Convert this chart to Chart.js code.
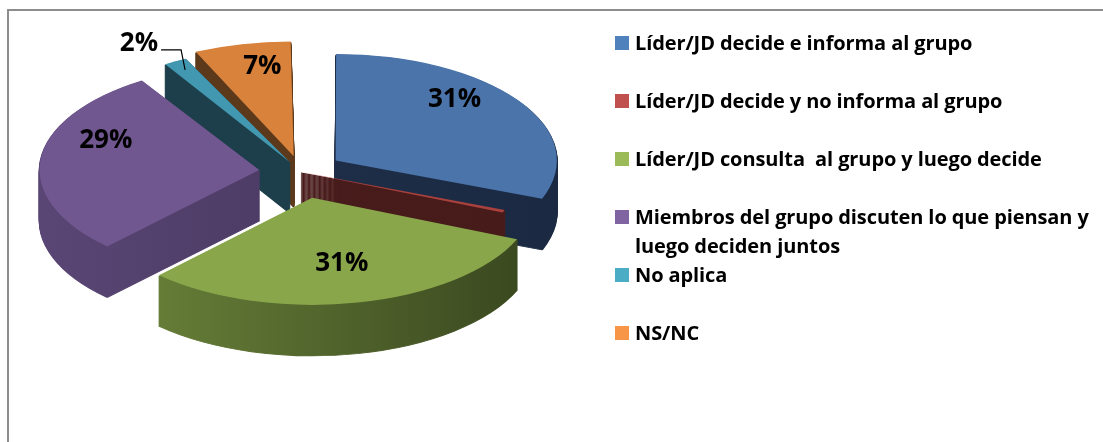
<!DOCTYPE html>
<html>
<head>
<meta charset="utf-8">
<script src="https://cdn.jsdelivr.net/npm/chart.js@4.4.1/dist/chart.umd.min.js"></script>
<style>
  html, body { margin: 0; padding: 0; background: #fff; }
  #wrap { position: relative; width: 1103px; height: 442px; overflow: hidden; }
  #frame { position: absolute; left: 7px; top: 9px; width: 1100px; height: 440px;
           border-top: 2px solid #8d8d8d; border-left: 2px solid #8d8d8d; }
  #grafico { position: absolute; left: 0; top: 0; }
  #leyenda { position: absolute; left: 615px; top: 28px; font: bold 20px "Open Sans", sans-serif; color: #000; }
  .item { position: relative; padding-left: 20px; line-height: 29px; height: 58px; white-space: pre; letter-spacing: -0.1px; }
  .item .caja { position: absolute; left: 0; top: 8px; width: 14px; height: 14px; }
</style>
</head>
<body>
<div id="wrap">
  <div id="frame"></div>
  <canvas id="grafico" width="1103" height="442"></canvas>
  <div id="leyenda"></div>
</div>
<script>
var categorias = [
  "Líder/JD decide e informa al grupo",
  "Líder/JD decide y no informa al grupo",
  "Líder/JD consulta  al grupo y luego decide",
  ["Miembros del grupo discuten lo que piensan y", "luego deciden juntos"],
  "No aplica",
  "NS/NC"
];
var valores = [31, 0.4, 31, 29, 2, 7];
var etiquetas = ["31%", "", "31%", "29%", "2%", "7%"];

var coloresCara = ["#4a74aa", "#a9413e", "#89a64b", "#71578f", "#4298b0", "#d8823c"];
// lado del pastel: claro a la izquierda, oscuro a la derecha
var ladoClaro = ["#22344f", "#4a1c1b", "#728d3e", "#5c4878", "#1d3f4b", "#5b391a"];
var ladoOscuro = ["#1a2840", "#461b1a", "#34401c", "#3f3154", "#1d3f4b", "#5b391a"];
var coloresLeyenda = ["#4f81bd", "#c0504d", "#9bbb59", "#8064a2", "#4bacc6", "#f79646"];
var separacion = [100, 0, 130, 100, 55, 80];

// perspectiva del pastel
var SX = 1.68, SY = 0.81, PROF = 51;

function centro(chart) {
  var a = chart.chartArea;
  return { x: (a.left + a.right) / 2, y: (a.top + a.bottom) / 2 };
}

function escalar(ctx, chart, dy) {
  var c = centro(chart);
  ctx.translate(c.x, c.y + dy);
  ctx.scale(SX, SY);
  ctx.translate(-c.x, -c.y);
}

function aPantalla(chart, p) {
  var c = centro(chart);
  return { x: c.x + (p.x - c.x) * SX, y: c.y + (p.y - c.y) * SY };
}

var pastel3d = {
  id: "pastel3d",
  beforeDatasetsDraw: function (chart) {
    var ctx = chart.ctx;
    var arcos = chart.getDatasetMeta(0).data;
    var c = centro(chart);
    // de atras hacia adelante
    var orden = arcos.map(function (a, i) { return i; }).sort(function (a, b) {
      var ma = (arcos[a].startAngle + arcos[a].endAngle) / 2;
      var mb = (arcos[b].startAngle + arcos[b].endAngle) / 2;
      return Math.sin(ma) - Math.sin(mb);
    });
    orden.forEach(function (i) {
      var arco = arcos[i];
      var r = arco.outerRadius + 30;
      var g = ctx.createLinearGradient(c.x - r, 0, c.x + r, 0);
      g.addColorStop(0, ladoClaro[i]);
      g.addColorStop(1, ladoOscuro[i]);
      var o = arco.options;
      arco.options = Object.assign({}, o, { backgroundColor: g, borderColor: g, borderWidth: 1 });
      for (var d = PROF; d > 0; d--) {
        ctx.save();
        escalar(ctx, chart, d);
        arco.draw(ctx);
        ctx.restore();
      }
      arco.options = o;
    });
    ctx.save();
    escalar(ctx, chart, 0);
  },
  afterDatasetsDraw: function (chart) {
    var ctx = chart.ctx;
    ctx.restore();
    var arcos = chart.getDatasetMeta(0).data;
    ctx.save();
    ctx.font = "bold 26px 'Open Sans', sans-serif";
    ctx.fillStyle = "#000";
    ctx.textAlign = "center";
    ctx.textBaseline = "middle";
    arcos.forEach(function (arco, i) {
      if (!etiquetas[i]) return;
      var p = arco.getProps(["x", "y", "startAngle", "endAngle", "outerRadius"], true);
      var m = (p.startAngle + p.endAngle) / 2;
      var desp = (arco.options.offset || 0) / 4;
      if (i === 4) {
        // etiqueta exterior con linea guia
        var r0 = p.outerRadius + desp;
        var borde = aPantalla(chart, { x: p.x + Math.cos(m) * r0, y: p.y + Math.sin(m) * r0 });
        var codo = { x: borde.x - 4, y: borde.y - 20 };
        ctx.strokeStyle = "#000";
        ctx.lineWidth = 1.2;
        ctx.beginPath();
        ctx.moveTo(borde.x, borde.y);
        ctx.lineTo(codo.x, codo.y);
        ctx.lineTo(codo.x - 20, codo.y);
        ctx.stroke();
        ctx.textAlign = "right";
        ctx.fillText(etiquetas[i], codo.x - 23, codo.y - 6);
        ctx.textAlign = "center";
        return;
      }
      var r = p.outerRadius * 0.66 + desp;
      var q = aPantalla(chart, { x: p.x + Math.cos(m) * r, y: p.y + Math.sin(m) * r });
      ctx.fillText(etiquetas[i], q.x - (i === 3 ? 10 : 0), q.y - (i === 2 ? 2 : 22));
    });
    ctx.restore();
  }
};

new Chart("grafico", {
  type: "pie",
  data: {
    labels: categorias,
    datasets: [{
      data: valores,
      backgroundColor: coloresCara,
      borderWidth: 0,
      offset: separacion,
      hoverOffset: 0
    }]
  },
  options: {
    responsive: false,
    animation: false,
    radius: 130,
    layout: { padding: { left: 131, right: 632, top: 2, bottom: 100 } },
    plugins: {
      legend: { display: false },
      tooltip: { enabled: false }
    },
    events: []
  },
  plugins: [pastel3d]
});

// leyenda
var ley = document.getElementById("leyenda");
categorias.forEach(function (c, i) {
  var div = document.createElement("div");
  div.className = "item";
  var caja = document.createElement("span");
  caja.className = "caja";
  caja.style.background = coloresLeyenda[i];
  div.appendChild(caja);
  var lineas = Array.isArray(c) ? c : [c];
  lineas.forEach(function (l, k) {
    if (k) div.appendChild(document.createElement("br"));
    div.appendChild(document.createTextNode(l));
  });
  ley.appendChild(div);
});
</script>
</body>
</html>
